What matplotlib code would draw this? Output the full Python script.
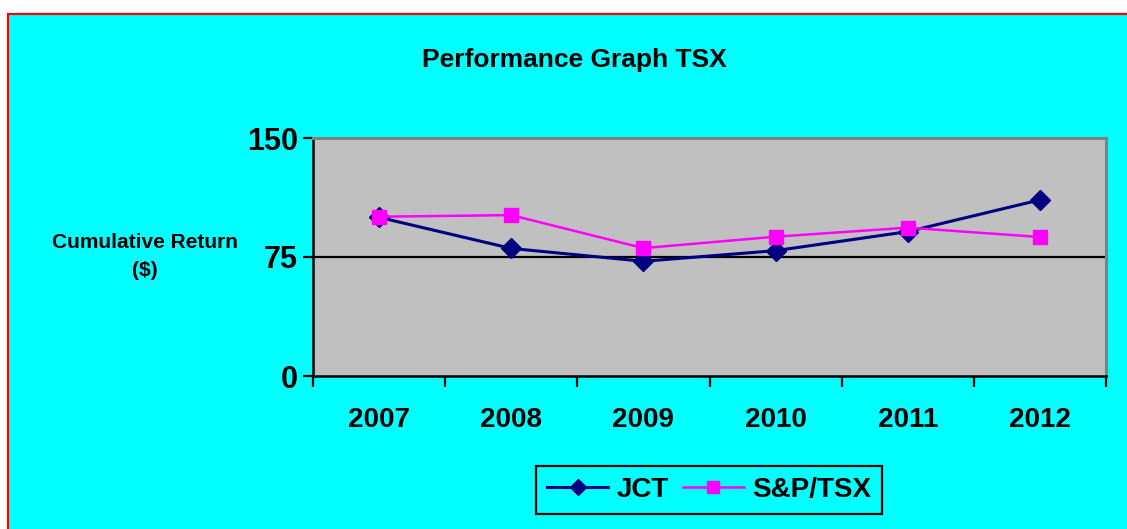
import numpy as np
import matplotlib
matplotlib.use("Agg")
import matplotlib.pyplot as plt
from matplotlib.patches import Rectangle

plt.rcParams['font.family'] = ['Liberation Sans', 'DejaVu Sans']
plt.rcParams['font.weight'] = 'bold'

# chart data
years = ['2007', '2008', '2009', '2010', '2011', '2012']
jct = [100.0, 80.4, 72.3, 79.0, 91.0, 111.0]
sp_tsx = [100.4, 101.4, 80.6, 87.8, 93.5, 87.6]
y_ticks = [0, 75, 150]

W, H = 1127, 529
fig = plt.figure(figsize=(W / 100, H / 100), dpi=100, facecolor='white')

# cyan chart area with red border (runs off the right and bottom edges)
fig.patches.append(Rectangle((8 / W, -0.05), 1.1, 1 - 14 / H + 0.05,
                             transform=fig.transFigure, facecolor='#00FFFF',
                             edgecolor='#FF0000', linewidth=1.6, zorder=-10))

ax = fig.add_axes([313 / W, 1 - 376 / H, (1106 - 313) / W, (376 - 138) / H])
ax.set_facecolor('#C0C0C0')

x = np.arange(len(years))
ax.plot(x, jct, color='#000080', lw=2.2, marker='D', ms=10, label='JCT', zorder=3)
ax.plot(x, sp_tsx, color='#FF00FF', lw=1.8, marker='s', ms=10, label='S&P/TSX',
        zorder=3)

ax.set_xlim(-0.5, len(years) - 0.5)
ax.set_ylim(0, 150)
ax.axhline(75, color='black', lw=1.6, zorder=2)

ax.set_yticks(y_ticks)
ax.set_yticklabels([str(v) for v in y_ticks], fontsize=22, fontweight='bold')
ax.set_xticks(x)
ax.set_xticklabels(years, fontsize=20, fontweight='bold')
ax.set_xticks(np.arange(-0.5, len(years), 1), minor=True)
ax.tick_params(axis='x', which='major', length=0, pad=22)
ax.tick_params(axis='x', which='minor', length=8, width=1.6, direction='out')
ax.tick_params(axis='y', length=7, width=1.6, direction='out', pad=4)

for side in ['left', 'bottom']:
    ax.spines[side].set_color('black')
    ax.spines[side].set_linewidth(1.8)
for side in ['top', 'right']:
    ax.spines[side].set_color('#808080')
    ax.spines[side].set_linewidth(2.2)

fig.text(574 / W, 1 - 60 / H, 'Performance Graph TSX', ha='center', va='center',
         fontsize=19, fontweight='bold')
fig.text(145 / W, 1 - 257 / H, 'Cumulative Return\n($)', ha='center', va='center',
         fontsize=15, fontweight='bold', linespacing=1.6)

leg = fig.legend(loc='center', bbox_to_anchor=(709 / W, 1 - 490 / H), ncol=2,
                 fontsize=20, frameon=True, fancybox=False, facecolor='#00FFFF',
                 edgecolor='black', handlelength=2.2, columnspacing=0.5,
                 handletextpad=0.3, borderpad=0.4, markerscale=0.8)
leg.get_frame().set_linewidth(1.6)
leg.get_frame().set_alpha(1)
for t in leg.get_texts():
    t.set_fontweight('bold')

fig.savefig('out.png', dpi=100, facecolor=fig.get_facecolor())
